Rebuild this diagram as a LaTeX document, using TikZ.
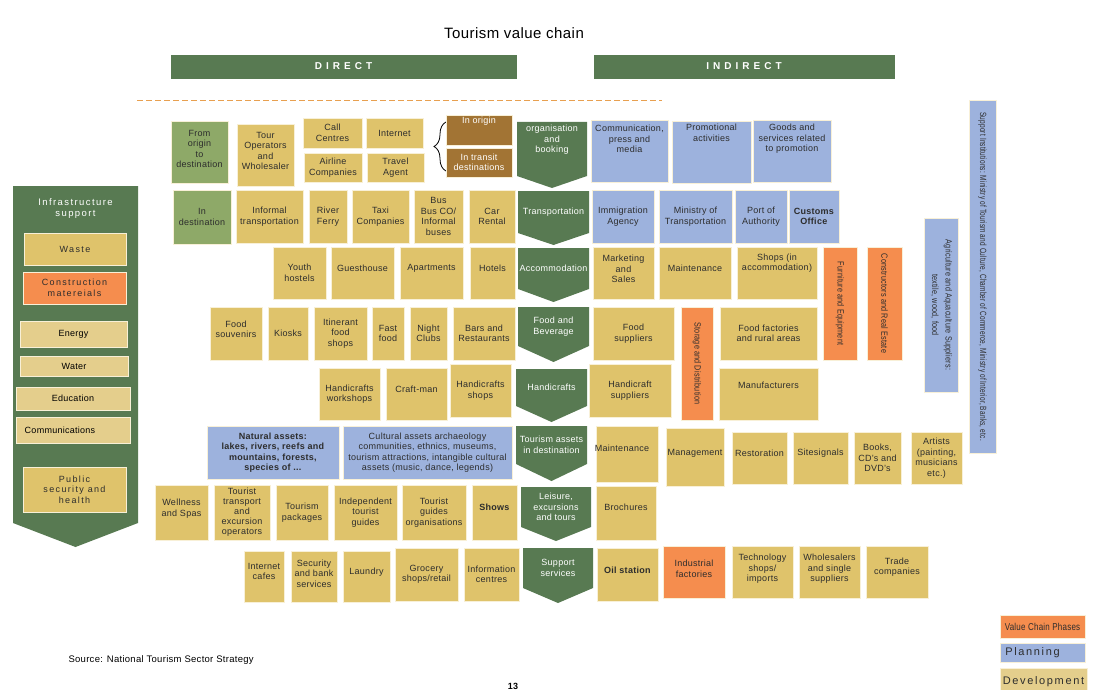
\documentclass[tikz,border=0pt]{standalone}
\usepackage{fontspec}
\setmainfont{Liberation Sans}[LetterSpace=3]
\newfontfamily\widefont[LetterSpace=15]{Liberation Sans}
\newfontfamily\barfont[LetterSpace=40]{Liberation Sans}
\usepackage{graphicx}
\usetikzlibrary{decorations.pathreplacing}
\definecolor{devyellow}{RGB}{223,195,107}
\definecolor{softyellow}{RGB}{228,206,140}
\definecolor{planblue}{RGB}{157,178,221}
\definecolor{vcporange}{RGB}{245,141,78}
\definecolor{stagegreen}{RGB}{88,122,82}
\definecolor{geogreen}{RGB}{142,169,104}
\definecolor{transitbrown}{RGB}{162,116,52}
\definecolor{edge}{RGB}{248,240,215}
\definecolor{ink}{RGB}{45,45,45}
\definecolor{dashorange}{RGB}{232,160,80}
\newcommand{\narrowtext}[1]{\scalebox{0.8}[1]{#1}}
% box: options, style, name, x1, y1, x2, y2, text
\newcommand{\tile}[8][]{\draw[#2] (#4,#5) rectangle (#6,#7);
  \node[boxtext,#1] (#3) at ({(#4+#6)/2},{(#5+#7)/2}) {#8};}
% phase arrow: options, name, x1, y1, x2, shoulder y, tip y, text
\newcommand{\stage}[8][]{\fill[stagefill] (#3,#4) -- (#5,#4) -- (#5,#6) -- ({(#3+#5)/2},#7) -- (#3,#6) -- cycle;
  \node[boxtext,text=white,#1] (#2) at ({(#3+#5)/2},{(#4+#6)/2}) {#8};}
\tikzset{
  boxtext/.style={font=\fontsize{9}{10.5}\selectfont, align=center, text=ink, inner sep=0pt},
  dev/.style={fill=devyellow, draw=edge, line width=0.8pt},
  soft/.style={fill=softyellow, draw=edge, line width=0.8pt},
  plan/.style={fill=planblue, draw=edge, line width=0.8pt},
  vcp/.style={fill=vcporange, draw=edge, line width=0.8pt},
  geo/.style={fill=geogreen, draw=edge, line width=0.8pt},
  transit/.style={fill=transitbrown, draw=edge, line width=0.8pt},
  phasebar/.style={fill=stagegreen, draw=stagegreen},
  stagefill/.style={fill=stagegreen},
  dashline/.style={draw=dashorange, line width=0.8pt, dash pattern=on 6pt off 3pt}
}

\begin{document}
\begin{tikzpicture}[x=1pt,y=-1pt]
\useasboundingbox (0,0) rectangle (1094,690);
% title and headings
\node[font=\fontsize{15}{18}\selectfont] (title) at (514,33) {Tourism value chain};
\tile[text=white,font=\barfont\bfseries\fontsize{10}{12}\selectfont]{phasebar}{direct}{171}{55}{516}{78}{DIRECT}
\tile[text=white,font=\barfont\bfseries\fontsize{10}{12}\selectfont]{phasebar}{indirect}{594}{55}{894}{78}{INDIRECT}
\draw[dashline] (137,100) -- (662,100);
% infrastructure support
\stage[yshift=146pt,font=\widefont\fontsize{9.5}{11}\selectfont]{infra}{13}{186}{138}{523}{547}{Infrastructure\\support}
\tile[font=\widefont\fontsize{9}{10.5}\selectfont]{dev}{waste}{24}{233}{126}{265}{Waste}
\tile[font=\widefont\fontsize{9}{10.5}\selectfont]{vcp}{constmat}{23}{272}{126}{304}{Construction\\matereials}
\tile[text=black]{soft}{energy}{20}{321}{127}{347}{Energy}
\tile[text=black]{soft}{water}{20}{356}{128}{376}{Water}
\tile[text=black]{soft}{education}{16}{387}{130}{410}{Education}
\tile[text=black,xshift=-13pt]{soft}{comms}{16}{417}{130}{443}{Communications}
\tile[font=\widefont\fontsize{9}{10.5}\selectfont]{dev}{publicsec}{23}{467}{126}{512}{Public\\security and\\health}
% row 1 of cells
\tile[yshift=3pt]{geo}{fromorigin}{171}{121}{228}{183}{From\\origin\\to\\destination}
\tile[yshift=4pt]{dev}{touroper}{237}{124}{294}{186}{Tour\\Operators\\and\\Wholesaler}
\tile{dev}{callcen}{303}{118}{362}{148}{Call\\Centres}
\tile{dev}{internet}{366}{118}{423}{148}{Internet}
\tile{dev}{airline}{304}{153}{362}{182}{Airline\\Companies}
\tile{dev}{travel}{367}{153}{424}{182}{Travel\\Agent}
\draw[decorate,decoration={brace,amplitude=12pt},line width=0.8pt] (446,171) -- (446,122);
\tile[text=white,yshift=9pt]{transit}{inorigin}{446}{115}{512}{145}{In origin}
\tile[text=white]{transit}{intransit}{446}{148}{512}{177}{In transit\\destinations}
\stage[yshift=9pt]{booking}{517}{122}{587}{176}{188}{organisation\\and\\booking}
\tile[yshift=12pt]{plan}{commpress}{591}{120}{668}{182}{Communication,\\press and\\media}
\tile[yshift=19pt]{plan}{promo}{672}{121}{751}{183}{Promotional\\activities}
\tile[yshift=12pt]{plan}{goodsserv}{753}{120}{831}{182}{Goods and\\services related\\to promotion}
% row 2 of cells
\tile{geo}{indest}{173}{190}{231}{244}{In\\destination}
\tile{dev}{informal}{236}{190}{303}{243}{Informal\\transportation}
\tile{dev}{ferry}{309}{190}{347}{243}{River\\Ferry}
\tile{dev}{taxi}{352}{190}{409}{243}{Taxi\\Companies}
\tile{dev}{bus}{414}{190}{463}{243}{Bus\\Bus CO/\\Informal\\buses}
\tile{dev}{carrent}{469}{190}{515}{243}{Car\\Rental}
\stage{transport}{518}{191}{589}{233}{245}{Transportation}
\tile{plan}{immig}{592}{190}{654}{243}{Immigration\\Agency}
\tile{plan}{ministry}{659}{190}{732}{243}{Ministry of\\Transportation}
\tile{plan}{port}{735}{190}{787}{243}{Port of\\Authority}
\tile{plan}{customs}{789}{190}{839}{243}{\textbf{Customs}\\\textbf{Office}}
% row 3 of cells
\tile{dev}{youth}{273}{247}{326}{299}{Youth\\hostels}
\tile[yshift=5pt]{dev}{guest}{331}{247}{394}{299}{Guesthouse}
\tile[yshift=5pt]{dev}{apart}{400}{247}{463}{299}{Apartments}
\tile[yshift=5pt]{dev}{hotels}{470}{247}{515}{299}{Hotels}
\stage{accom}{518}{248}{589}{289}{302}{Accommodation}
\tile[yshift=4pt]{dev}{marketing}{593}{247}{654}{299}{Marketing\\and\\Sales}
\tile[yshift=5pt]{dev}{maint}{659}{247}{731}{299}{Maintenance}
\tile[yshift=10pt]{dev}{shops}{737}{247}{817}{299}{Shops (in\\accommodation)}
\tile[rotate=-90]{vcp}{furniture}{823}{247}{857}{360}{\narrowtext{Furniture and Equipment}}
\tile[rotate=-90]{vcp}{constructors}{867}{247}{902}{360}{\narrowtext{Constructors and Real Estate}}
\tile[rotate=-90]{plan}{agri}{924}{218}{958}{392}{\narrowtext{\begin{tabular}{@{}c@{}}Agriculture and Aquaculture Suppliers:\\[3pt] textile, wood, food\end{tabular}}}
\tile[rotate=-90]{plan}{institutions}{969}{100}{996}{453}{\scalebox{0.72}[1]{Support Institutions: Ministry of Tourism and Culture, Chamber of Commerce, Ministry of Interior, Banks, etc.}}
% row 4 of cells
\tile[yshift=4pt]{dev}{foodsouv}{210}{307}{262}{360}{Food\\souvenirs}
\tile{dev}{kiosks}{268}{307}{308}{360}{Kiosks}
\tile{dev}{itinerant}{314}{307}{367}{360}{Itinerant\\food\\shops}
\tile{dev}{fastfood}{372}{307}{404}{360}{Fast\\food}
\tile{dev}{nightclub}{410}{307}{447}{360}{Night\\Clubs}
\tile{dev}{bars}{453}{307}{515}{360}{Bars and\\Restaurants}
\stage{foodbev}{518}{307}{589}{346}{362}{Food and\\Beverage}
\tile{dev}{foodsup}{593}{307}{674}{360}{Food\\suppliers}
\tile[rotate=-90]{vcp}{storage}{681}{307}{713}{420}{\narrowtext{Storage and Distribution}}
\tile{dev}{foodfact}{720}{307}{817}{360}{Food factories\\and rural areas}
% row 5 of cells
\tile{dev}{hcworkshop}{319}{368}{380}{420}{Handicrafts\\workshops}
\tile[yshift=5pt]{dev}{craftman}{386}{368}{447}{420}{Craft-man}
\tile{dev}{hcshops}{450}{364}{511}{417}{Handicrafts\\shops}
\stage{handicr}{516}{369}{587}{406}{422}{Handicrafts}
\tile{dev}{hcsup}{589}{364}{671}{417}{Handicraft\\suppliers}
\tile[yshift=9pt]{dev}{manuf}{719}{368}{818}{420}{Manufacturers}
% row 6 of cells
\tile{plan}{natural}{207}{426}{339}{479}{\textbf{Natural assets:}\\\textbf{lakes, rivers, reefs and}\\\textbf{mountains, forests,}\\\textbf{species of ...}}
\tile{plan}{cultural}{343}{426}{512}{479}{Cultural assets archaeology\\communities, ethnics, museums,\\tourism attractions, intangible cultural\\assets (music, dance, legends)}
\stage{assets}{516}{426}{587}{464}{481}{Tourism assets\\in destination}
\tile[yshift=6pt,xshift=-5pt]{dev}{maintsite}{596}{426}{658}{482}{Maintenance}
\tile[yshift=4pt]{dev}{manage}{666}{428}{724}{486}{Management}
\tile[yshift=5pt]{dev}{restor}{732}{432}{787}{484}{Restoration}
\tile[yshift=5pt]{dev}{signals}{793}{432}{848}{484}{Sitesignals}
\tile{dev}{books}{854}{432}{901}{484}{Books,\\CD's and\\DVD's}
\tile{dev}{artists}{911}{432}{962}{484}{Artists\\(painting,\\musicians\\etc.)}
% row 7 of cells
\tile[yshift=4pt]{dev}{wellness}{155}{485}{208}{540}{Wellness\\and Spas}
\tile[font=\fontsize{9}{10}\selectfont]{dev}{tourtrans}{214}{485}{270}{540}{Tourist\\transport\\and\\excursion\\operators}
\tile{dev}{packages}{276}{485}{328}{540}{Tourism\\packages}
\tile{dev}{indguides}{334}{485}{397}{540}{Independent\\tourist\\guides}
\tile{dev}{guideorg}{402}{485}{466}{540}{Tourist\\guides\\organisations}
\tile[yshift=5pt]{dev}{shows}{472}{485}{517}{540}{\textbf{Shows}}
\stage{leisure}{521}{487}{591}{527}{541}{Leisure,\\excursions\\and tours}
\tile[yshift=6pt]{dev}{brochures}{596}{486}{656}{540}{Brochures}
% row 8 of cells
\tile[yshift=5pt]{dev}{netcafe}{244}{551}{284}{602}{Internet\\cafes}
\tile[yshift=3pt]{dev}{security}{291}{551}{337}{602}{Security\\and bank\\services}
\tile[yshift=4pt]{dev}{laundry}{343}{551}{390}{602}{Laundry}
\tile{dev}{grocery}{395}{548}{458}{601}{Grocery\\shops/retail}
\tile{dev}{infocen}{464}{548}{519}{601}{Information\\centres}
\stage{support}{523}{548}{593}{588}{603}{Support\\services}
\tile[yshift=4pt]{dev}{oil}{597}{548}{658}{601}{\textbf{Oil station}}
\tile[yshift=3pt]{vcp}{industrial}{663}{546}{725}{598}{Industrial\\factories}
\tile[yshift=3pt]{dev}{techshop}{732}{546}{793}{598}{Technology\\shops/\\imports}
\tile[yshift=3pt]{dev}{wholesale}{799}{546}{860}{598}{Wholesalers\\and single\\suppliers}
\tile[yshift=5pt]{dev}{trade}{866}{546}{928}{598}{Trade\\companies}
% source, page number and legend
\node[anchor=west,font=\fontsize{9.5}{11}\selectfont] (source) at (65,660) {Source: National Tourism Sector Strategy};
\node[anchor=north,font=\bfseries\fontsize{9}{11}\selectfont] (pagenum) at (513,680) {13};
\tile[font=\fontsize{10}{12}\selectfont]{vcp}{legvcp}{1000}{615}{1085}{638}{\narrowtext{Value Chain Phases}}
\tile[font=\widefont\fontsize{11}{13}\selectfont,xshift=-10pt]{plan}{legplan}{1000}{643}{1085}{662}{Planning}
\tile[font=\widefont\fontsize{11}{13}\selectfont,yshift=-2pt]{soft}{legdev}{1000}{668}{1087}{692}{Development}
\end{tikzpicture}
\end{document}
